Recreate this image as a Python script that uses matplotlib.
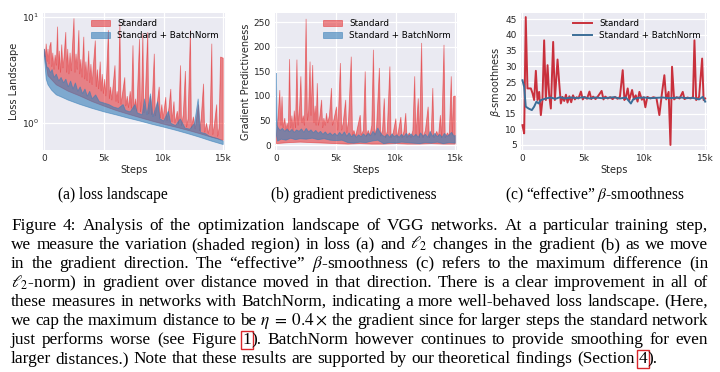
import matplotlib
matplotlib.use("Agg")
import matplotlib.pyplot as plt
import numpy as np
from matplotlib.ticker import NullLocator

# ---------------- data ----------------
xtick_vals = [0, 5000, 10000, 15000]
xtick_labels = ["0", "5k", "10k", "15k"]
series_names = ["Standard", "Standard + BatchNorm"]

# (a) loss landscape: shaded ranges
std_loss_up_steps = [0, 80, 150, 230, 300, 380, 450, 550, 620, 700, 800, 900, 1000, 1100, 1180, 1250, 1350, 1450, 1550, 1650,
                     1790, 1870, 1950, 2050, 2150, 2250, 2350, 2480, 2560, 2650, 2750, 2890, 2960, 3050, 3150, 3300, 3380,
                     3480, 3580, 3715, 3800, 3900, 4000, 4100, 4270, 4350, 4450, 4550, 4680, 4760, 4850, 4950, 5050, 5150,
                     5370, 5450, 5550, 5650, 5920, 6000, 6100, 6200, 6330, 6420, 6550, 6740, 6820, 6950, 7050, 7200, 7300,
                     7430, 7520, 7650, 7750, 7980, 8060, 8150, 8260, 8340, 8450, 8670, 8750, 8900, 9000, 9220, 9300, 9450,
                     9630, 9720, 9850, 9950, 10180, 10280, 10450, 10600, 10700, 10870, 10950, 11150, 11250, 11420, 11500,
                     11650, 11830, 11920, 12050, 12250, 12330, 12500, 12650, 12930, 13020, 13150, 13350, 13440, 13600, 13750,
                     13900, 14040, 14120, 14250, 14450, 14530, 14650, 14780, 15000]
std_loss_up = [5.0, 4.2, 5.6, 3.8, 5.0, 3.6, 5.3, 5.8, 3.4, 4.6, 3.2, 4.4, 3.5, 8.1, 3.2, 4.8, 3.0, 5.5, 3.3, 4.2,
               7.2, 3.0, 5.0, 2.9, 4.6, 3.1, 5.2, 9.7, 3.0, 4.5, 3.2, 7.5, 2.9, 4.0, 2.7, 6.5, 2.6,
               3.8, 2.5, 4.8, 2.4, 3.6, 2.3, 3.4, 6.0, 2.2, 3.2, 2.1, 3.8, 2.0, 2.9, 1.9, 2.6, 1.8,
               7.5, 1.7, 2.2, 1.65, 3.5, 1.6, 2.0, 1.55, 8.7, 1.5, 1.9, 2.7, 1.45, 1.8, 1.4, 2.0, 1.38,
               5.4, 1.35, 1.7, 1.3, 6.2, 1.28, 1.7, 7.0, 1.25, 1.6, 7.2, 1.22, 1.8, 1.2, 4.5, 1.17, 1.5,
               2.2, 1.12, 1.5, 1.1, 1.76, 1.06, 1.4, 2.1, 1.03, 1.6, 1.0, 1.3, 0.98, 3.5, 0.95,
               1.2, 3.1, 0.92, 1.1, 7.5, 0.9, 1.15, 0.88, 1.5, 0.85, 1.1, 2.35, 0.82, 1.0, 0.8,
               1.0, 5.6, 0.78, 0.95, 1.5, 0.75, 0.9, 4.2, 4.1]
std_loss_lo_steps = [0, 300, 1000, 2000, 3000, 4000, 5000, 6000, 7000, 8000, 9000, 10000, 11000, 12000, 13000, 14000, 15000]
std_loss_lo = [4.4, 2.8, 2.3, 2.0, 1.8, 1.6, 1.45, 1.32, 1.22, 1.13, 1.05, 0.98, 0.92, 0.86, 0.8, 0.74, 0.69]

bn_loss_up_steps = [0, 100, 200, 350, 500, 650, 800, 1000, 1200, 1400, 1600, 1800, 2000, 2200, 2400, 2600, 2800, 3000,
                    3200, 3400, 3600, 3800, 4000, 4300, 4600, 5000, 5400, 5800, 6200, 6600, 6800, 7200, 7600, 7800,
                    8200, 8400, 8600, 8900, 9100, 9500, 9700, 10000, 10400, 10600, 11000, 11400, 11800, 12200, 12600,
                    12900, 13100, 13500, 13800, 14100, 14500, 15000]
bn_loss_up = [5.0, 4.0, 3.4, 3.3, 3.0, 3.2, 2.7, 2.9, 2.5, 2.7, 2.4, 2.6, 2.2, 2.5, 2.1, 2.4, 2.0, 2.2,
              1.9, 2.1, 1.8, 2.0, 1.7, 1.85, 1.6, 1.55, 1.5, 1.42, 1.38, 1.5, 1.32, 1.28, 1.5, 1.25,
              1.2, 1.7, 1.2, 1.9, 1.15, 1.6, 1.1, 1.05, 1.3, 1.0, 0.95, 1.1, 0.9, 0.88, 1.0,
              1.7, 0.82, 0.8, 0.76, 0.74, 0.72, 0.68]
bn_loss_lo_steps = [0, 150, 300, 600, 1000, 1500, 2000, 3000, 4000, 5000, 6000, 7000, 8000, 9000, 10000, 11000, 12000,
                    13000, 14000, 15000]
bn_loss_lo = [4.2, 2.6, 2.3, 2.05, 1.85, 1.75, 1.65, 1.5, 1.38, 1.28, 1.2, 1.12, 1.05, 0.98, 0.92, 0.86, 0.8,
              0.74, 0.68, 0.63]

# (b) gradient predictiveness: shaded ranges
std_grad_up_steps = [0, 150, 280, 380, 470, 560, 700, 800, 900, 1000, 1100, 1200, 1300, 1400, 1500, 1600, 1720, 1820,
                     1950, 2050, 2150, 2250, 2350, 2490, 2600, 2700, 2820, 2900, 3040, 3150, 3250, 3330, 3430, 3520,
                     3650, 3790, 3880, 3980, 4100, 4200, 4300, 4450, 4620, 4700, 4850, 5040, 5150, 5370, 5470, 5600,
                     5810, 5900, 6050, 6280, 6380, 6500, 6650, 6800, 7030, 7120, 7300, 7450, 7550, 7700, 7850, 8000,
                     8140, 8250, 8400, 8640, 8740, 8900, 9050, 9150, 9300, 9520, 9620, 9800, 10020, 10120, 10250,
                     10440, 10550, 10700, 10850, 10950, 11150, 11300, 11450, 11600, 11700, 11900, 12000, 12180, 12300,
                     12500, 12730, 12830, 13000, 13120, 13220, 13450, 13600, 13760, 13860, 14060, 14160, 14350, 14500,
                     14670, 14760, 14860, 15000]
std_grad_up = [20, 60, 112, 40, 99, 35, 55, 30, 45, 28, 175, 35, 60, 30, 70, 35, 174, 40,
               80, 140, 45, 60, 40, 257, 50, 70, 170, 60, 163, 45, 80, 40, 126, 40,
               60, 92, 35, 55, 40, 65, 45, 60, 116, 40, 55, 78, 30, 167, 30, 45,
               92, 25, 50, 180, 20, 30, 18, 35, 61, 20, 30, 150, 18, 30, 20, 40,
               194, 20, 35, 157, 18, 30, 95, 15, 28, 160, 15, 25, 54, 15, 30,
               57, 15, 28, 65, 15, 25, 15, 30, 140, 18, 95, 15, 208, 15,
               30, 78, 15, 30, 116, 15, 28, 18, 61, 15, 204, 15, 25, 18,
               140, 20, 99, 100]
std_grad_lo_steps = [0, 1000, 2000, 3000, 4000, 5000, 6000, 7000, 8000, 9000, 10000, 11000, 12000, 13000, 14000, 15000]
std_grad_lo = [3, 5, 6, 5, 4, 3, 2, 3, 2, 2, 3, 2, 2, 3, 2, 2]

bn_grad_up_steps = [0, 60, 150, 300, 500, 700, 900, 1100, 1300, 1500, 1700, 1900, 2100, 2300, 2500, 2700, 2900, 3100,
                    3300, 3500, 3700, 3900, 4100, 4300, 4500, 4700, 4900, 5100, 5300, 5500, 5700, 5900, 6100, 6300,
                    6500, 6700, 6900, 7100, 7300, 7500, 7700, 7900, 8100, 8300, 8500, 8700, 8900, 9100, 9300, 9500,
                    9700, 9900, 10100, 10300, 10500, 10700, 10900, 11100, 11300, 11500, 11700, 11900, 12100, 12300,
                    12500, 12700, 12900, 13100, 13300, 13500, 13700, 13900, 14100, 14300, 14500, 14700, 14900, 15000]
bn_grad_up = [146, 40, 35, 30, 34, 28, 33, 27, 32, 26, 31, 28, 33, 26, 34, 27, 31, 25,
              30, 24, 28, 22, 27, 21, 25, 20, 24, 19, 26, 20, 27, 18, 25, 17,
              22, 16, 21, 17, 23, 18, 24, 19, 28, 22, 35, 26, 20, 17, 22, 16,
              23, 17, 21, 16, 22, 17, 24, 18, 23, 17, 22, 16, 25, 18,
              22, 16, 28, 18, 24, 17, 22, 16, 24, 18, 21, 26, 18, 20]
bn_grad_lo_steps = [0, 100, 400, 800, 1200, 1600, 2000, 2500, 3000, 3500, 4000, 4500, 5000, 5500, 6000, 6500, 7000,
                    7500, 8000, 8500, 9000, 9500, 10000, 10500, 11000, 11500, 12000, 12500, 13000, 13500, 14000,
                    14500, 15000]
bn_grad_lo = [20, 8, 12, 10, 14, 11, 13, 12, 14, 11, 13, 10, 9, 10, 5, 4, 6,
              5, 8, 10, 3, 5, 4, 6, 5, 4, 3, 5, 4, 6, 3, 5, 4]

# (c) effective beta-smoothness: lines
std_beta_steps = [0, 140, 270, 410, 690, 830, 960, 1100, 1230, 1370, 1510, 1640, 1780, 1920, 2060, 2190, 2330, 2520,
                  2660, 2880, 3020, 3150, 3290, 3430, 3570, 3700, 3850, 4000, 4150, 4300, 4450, 4600, 4800, 4950,
                  5100, 5300, 5500, 5650, 5800, 6000, 6200, 6500, 6650, 6800, 7000, 7200, 7400, 7600, 7800, 8000,
                  8230, 8370, 8500, 8640, 8770, 9000, 9150, 9300, 9450, 9600, 9800, 9950, 10090, 10250, 10500,
                  10750, 11000, 11240, 11450, 11650, 11800, 12000, 12150, 12280, 12450, 12650, 12900, 13160, 13300,
                  13550, 13800, 14000, 14120, 14260, 14500, 14750, 14870, 15000]
std_beta = [11.3, 8.7, 45.7, 23, 23, 21.4, 19.3, 28.6, 19.3, 21.9, 14.5, 19.3, 38.3, 19.3, 30.4, 21, 16.6, 37.8,
            19.3, 32.2, 24.6, 18.2, 20.3, 19.0, 21, 18.5, 20.5, 18.6, 20.8, 19.5, 20.2, 19.8, 22, 19.5,
            20.3, 19.7, 22, 19.6, 20.4, 19.6, 20.5, 22.2, 19.5, 20.4, 19.8, 20.2, 19.6, 20.3, 19.7, 20.3,
            28.8, 19.3, 20.5, 23, 19.3, 22.5, 19.5, 20.8, 18.8, 21.9, 19.4, 20.2, 17, 20.3, 19.8,
            20.2, 19.9, 14.5, 21.4, 27.2, 19.5, 21.9, 5, 29.9, 19.5, 20.2, 19.8, 21.9, 19.6,
            20.1, 19.8, 20.2, 38.3, 19.3, 20.3, 32.5, 19.3, 19.8]
bn_beta_steps = [0, 140, 270, 500, 770, 960, 1150, 1320, 1510, 1920, 2300, 2700, 3100, 3500, 4000, 4500, 5000, 5500,
                 6000, 6500, 7000, 7500, 8000, 8500, 8900, 9100, 9500, 10000, 10500, 11000, 11500, 12000, 12500,
                 13000, 13500, 14000, 14500, 14800, 15000]
bn_beta = [25.6, 23.5, 17.2, 16.6, 16.1, 17.2, 18.8, 18.2, 19.3, 19.8, 20.1, 19.7, 20.2, 19.8, 20.1, 19.9, 20.2, 19.8,
           20.1, 19.9, 20.0, 20.2, 19.8, 20.1, 18.2, 19.6, 20.0, 20.1, 19.9, 20.0, 20.1, 19.9, 20.0,
           20.1, 19.9, 20.0, 19.5, 20.3, 18.8]

caption_a = "(a) loss landscape"
caption_b = "(b) gradient predictiveness"
caption_c = "(c) “effective” $\\beta$-smoothness"

paragraph_lines = [
    "Figure 4: Analysis of the optimization landscape of VGG networks. At a particular training step,",
    "we measure the variation (shaded region) in loss (a) and $\\ell_2$ changes in the gradient (b) as we move",
    "in the gradient direction. The “effective” $\\beta$-smoothness (c) refers to the maximum difference (in",
    "$\\ell_2$-norm) in gradient over distance moved in that direction. There is a clear improvement in all of",
    "these measures in networks with BatchNorm, indicating a more well-behaved loss landscape. (Here,",
    "we cap the maximum distance to be $\\eta\\;=\\;0.4\\times$ the gradient since for larger steps the standard network",
    "just performs worse (see Figure @1@). BatchNorm however continues to provide smoothing for even",
    "larger distances.) Note that these results are supported by our theoretical findings (Section @4@).",
]

# ---------------- style ----------------
W, H = 720, 372
plt.rcParams["font.family"] = ["DejaVu Sans"]
plt.rcParams["mathtext.fontset"] = "dejavusans"
BG = "#EAEAF2"
RED_FILL = "#e41a1c"
BLUE_FILL = "#377eb8"
RED_LINE = "#c9303c"
BLUE_LINE = "#3b6e98"
TXT = "#262626"

fig = plt.figure(figsize=(W / 100, H / 100), dpi=100)
fig.patch.set_facecolor("white")


def add_ax(left, right, top, bottom):
    ax = fig.add_axes([left / W, 1 - bottom / H, (right - left) / W, (bottom - top) / H])
    ax.set_facecolor(BG)
    for s in ax.spines.values():
        s.set_visible(False)
    ax.grid(True, color="white", lw=0.9)
    ax.set_axisbelow(True)
    ax.tick_params(length=0, labelsize=6.5, colors=TXT, pad=3)
    ax.set_xticks(xtick_vals)
    ax.set_xticklabels(xtick_labels)
    ax.set_xlim(-120, 15150)
    ax.set_xlabel("Steps", fontsize=7, color=TXT, labelpad=1.5)
    return ax


def band(ax, xu, yu, xl, yl, color, alpha, label):
    xs = list(xu) + list(xl)[::-1]
    ys = list(yu) + list(yl)[::-1]
    return ax.fill(xs, ys, color=color, alpha=alpha, lw=0.6, label=label)[0]


# (a)
ax1 = add_ax(43, 225, 13, 150)
ax1.set_yscale("log")
h1 = band(ax1, std_loss_up_steps, std_loss_up, std_loss_lo_steps, std_loss_lo, RED_FILL, 0.5, series_names[0])
h2 = band(ax1, bn_loss_up_steps, bn_loss_up, bn_loss_lo_steps, bn_loss_lo, BLUE_FILL, 0.6, series_names[1])
ax1.set_ylim(0.56, 10.9)
ax1.yaxis.set_minor_locator(NullLocator())
ax1.set_ylabel("Loss Landscape", fontsize=7, color=TXT, labelpad=2)
ax1.legend(handles=[h1, h2], loc="upper right", frameon=False, fontsize=6.3,
           handlelength=2.2, borderaxespad=0.3, labelspacing=0.3)

# (b)
ax2 = add_ax(275, 457, 13, 150)
h1 = band(ax2, std_grad_up_steps, std_grad_up, std_grad_lo_steps, std_grad_lo, RED_FILL, 0.5, series_names[0])
h2 = band(ax2, bn_grad_up_steps, bn_grad_up, bn_grad_lo_steps, bn_grad_lo, BLUE_FILL, 0.6, series_names[1])
ax2.set_ylim(-10, 269)
ax2.set_yticks([0, 50, 100, 150, 200, 250])
ax2.set_ylabel("Gradient Predictiveness", fontsize=7, color=TXT, labelpad=2)
ax2.legend(handles=[h1, h2], loc="upper right", frameon=False, fontsize=6.3,
           handlelength=2.2, borderaxespad=0.3, labelspacing=0.3)

# (c)
ax3 = add_ax(521, 707, 13, 150)
l1, = ax3.plot(std_beta_steps, std_beta, color=RED_LINE, lw=1.4, label=series_names[0])
l2, = ax3.plot(bn_beta_steps, bn_beta, color=BLUE_LINE, lw=1.4, label=series_names[1])
ax3.set_ylim(3.4, 47)
ax3.set_yticks([5, 10, 15, 20, 25, 30, 35, 40, 45])
ax3.set_ylabel("$\\beta$-smoothness", fontsize=7, color=TXT, labelpad=2)
ax3.legend(handles=[l1, l2], loc="upper right", frameon=False, fontsize=6.3,
           handlelength=2.2, borderaxespad=0.3, labelspacing=0.3)

# ---------------- captions & paragraph ----------------
SERIF = ["Liberation Serif", "DejaVu Serif"]
FS_CAP = 11.2
FS = 12.4
plt.rcParams["mathtext.fontset"] = "stix"

for txt, cx in [(caption_a, 113), (caption_b, 354), (caption_c, 595)]:
    fig.text(cx / W, 1 - 199 / H, txt, family=SERIF, fontsize=FS_CAP, ha="center", va="baseline", color="black")

renderer = fig.canvas.get_renderer()


def split_words(line):
    words, cur, inmath = [], "", False
    for ch in line:
        if ch == "$":
            inmath = not inmath
        if ch == " " and not inmath:
            if cur:
                words.append(cur)
            cur = ""
        else:
            cur += ch
    if cur:
        words.append(cur)
    return words


def segs_of(word):
    parts = word.split("@")
    return [(p, i % 2 == 1) for i, p in enumerate(parts) if p]


def width_of(s):
    t = fig.text(0, 0, s, family=SERIF, fontsize=FS)
    w = t.get_window_extent(renderer).width
    t.remove()
    return w


space_w = width_of("a a") - width_of("aa")
LEFT, RIGHT = 11, 708
for i, line in enumerate(paragraph_lines):
    y = 1 - (230 + 19 * i) / H
    words = [segs_of(w) for w in split_words(line)]
    widths = [[width_of(s) for s, _ in w] for w in words]
    total = sum(sum(w) for w in widths)
    justify = i < len(paragraph_lines) - 1
    gap = (RIGHT - LEFT - total) / (len(words) - 1) if justify else space_w
    x = LEFT
    for w, ws in zip(words, widths):
        for (s, boxed), sw in zip(w, ws):
            kw = {}
            if boxed:
                kw["bbox"] = dict(boxstyle="square,pad=0.08", fc="none", ec="#d9262b", lw=1.0)
            fig.text(x / W, y, s, family=SERIF, fontsize=FS, ha="left", va="baseline", color="black", **kw)
            x += sw
        x += gap

fig.savefig("out.png", dpi=100, facecolor="white")
